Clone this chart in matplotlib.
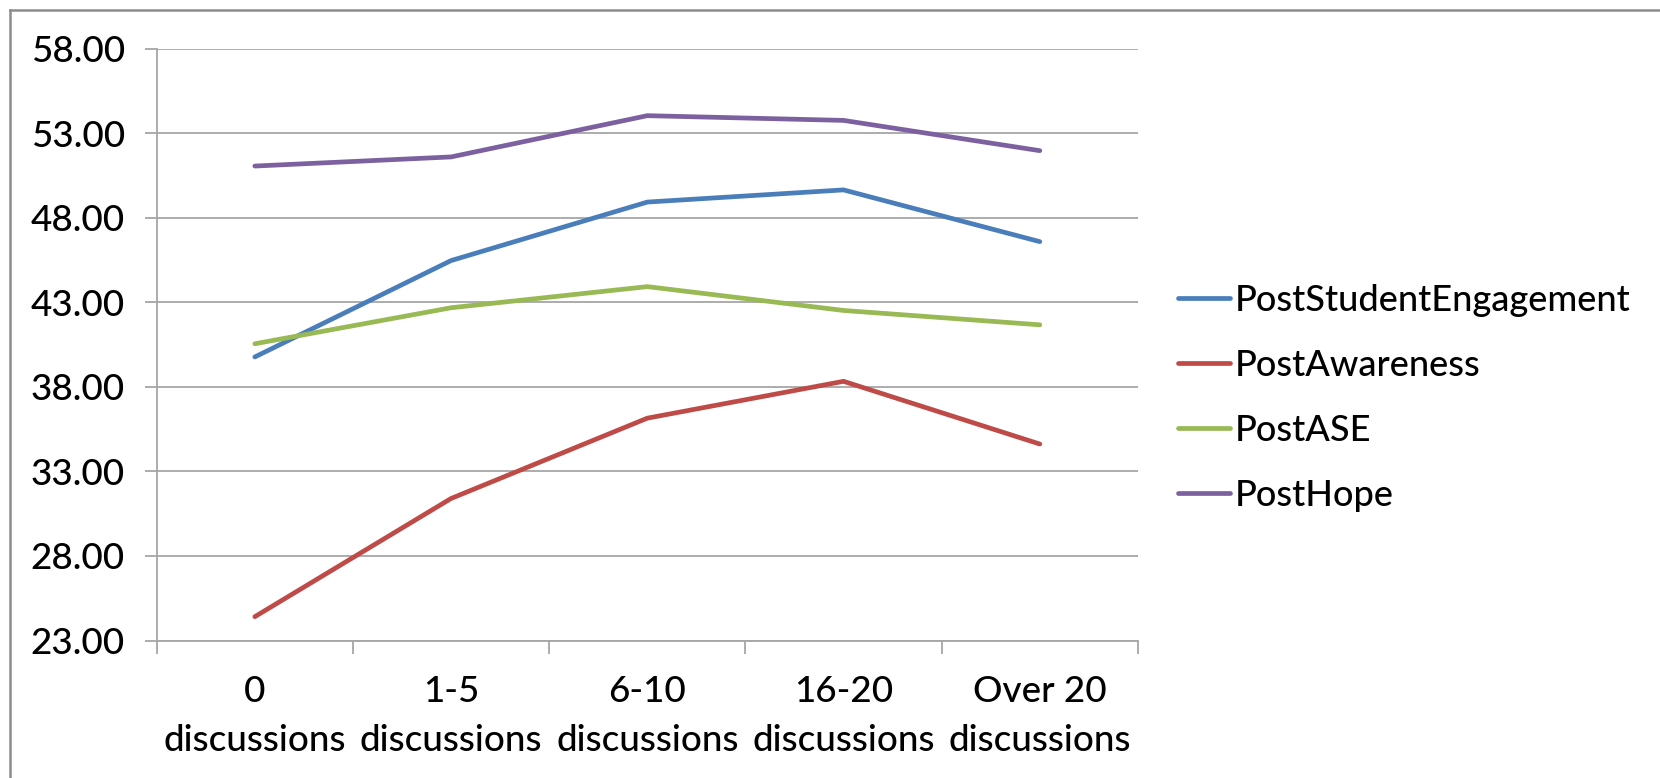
import numpy as np
import matplotlib.pyplot as plt
from matplotlib.lines import Line2D

# categories and series
categories = ["0\ndiscussions", "1-5\ndiscussions", "6-10\ndiscussions",
              "16-20\ndiscussions", "Over 20\ndiscussions"]
post_engagement = [39.77, 45.47, 48.93, 49.65, 46.59]
post_awareness = [24.41, 31.40, 36.15, 38.33, 34.62]
post_ase = [40.55, 42.68, 43.93, 42.52, 41.67]
post_hope = [51.06, 51.60, 54.04, 53.76, 51.97]
y_ticks = [23, 28, 33, 38, 43, 48, 53, 58]

plt.rcParams['font.family'] = ['Lato', 'DejaVu Sans']
plt.rcParams['font.weight'] = 'medium'
GRID = '#a6a6a6'

fig = plt.figure(figsize=(16.6, 7.78), dpi=100)
ax = fig.add_axes([0.0944, 0.1767, 0.5911, 0.7607])

x = np.arange(len(categories))
series = [
    ("PostStudentEngagement", post_engagement, '#4a7ebb'),
    ("PostAwareness", post_awareness, '#be4b48'),
    ("PostASE", post_ase, '#98b954'),
    ("PostHope", post_hope, '#7d60a0'),
]
for name, vals, col in series:
    ax.plot(x, vals, color=col, lw=3.4, label=name, solid_capstyle='round')

ax.set_xlim(-0.5, len(categories) - 0.5)
ax.set_ylim(23, 58)

# y axis: gridlines + outward ticks
ax.set_yticks(y_ticks)
ax.set_yticklabels([f"{v:.2f}" for v in y_ticks])
ax.yaxis.grid(True, color=GRID, lw=1.3)
ax.set_axisbelow(True)
ax.tick_params(axis='y', length=9, width=1.3, color=GRID, direction='out', pad=14, labelsize=26.5)

# x axis: tick marks at category boundaries, two-line labels at centres
ax.set_xticks(np.arange(-0.5, len(categories), 1.0))
ax.set_xticklabels([])
ax.tick_params(axis='x', length=9, width=1.3, color=GRID, direction='out')
for i, cat in enumerate(categories):
    ax.annotate(cat, xy=(x[i], 0), xycoords=('data', 'axes fraction'),
                xytext=(0, -25), textcoords='offset points',
                ha='center', va='top', fontsize=26.5, linespacing=1.6)

for s in ['top', 'right']:
    ax.spines[s].set_visible(False)
for s in ['left', 'bottom']:
    ax.spines[s].set_color(GRID)
    ax.spines[s].set_linewidth(1.3)

ax.legend(loc='center left', bbox_to_anchor=(1.008, 0.41), frameon=False,
          fontsize=26, handlelength=1.42, handletextpad=0.15, labelspacing=0.89)

# chart-area border (left and top edges visible)
fig.add_artist(Line2D([0.0062, 0.0062], [0, 0.987], color='#8c8c8c', lw=1.8))
fig.add_artist(Line2D([0.0062, 1.0], [0.987, 0.987], color='#8c8c8c', lw=1.8))

fig.savefig("out.png", dpi=100)
